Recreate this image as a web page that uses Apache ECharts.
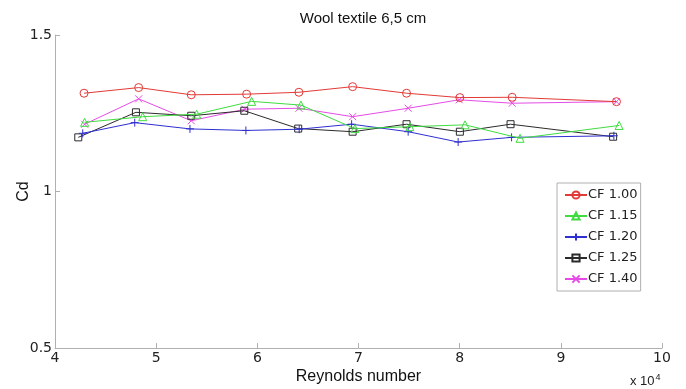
<!DOCTYPE html>
<html>
<head>
<meta charset="utf-8">
<script src="https://cdn.jsdelivr.net/npm/echarts@6/dist/echarts.min.js"></script>
<style>
  html, body { margin: 0; padding: 0; background: #fff; }
  #chart { width: 686px; height: 389px; }
</style>
</head>
<body>
<div id="chart"></div>
<script>
// Drag coefficient vs Reynolds number, wool textile sample 6,5 cm
const seriesNames = ['CF 1.00', 'CF 1.15', 'CF 1.20', 'CF 1.25', 'CF 1.40'];

const reCF100 = [42870, 48270, 53470, 58940, 64110, 69420, 74750, 80020, 85190, 95500];
const cdCF100 = [1.314, 1.332, 1.309, 1.311, 1.317, 1.335, 1.314, 1.300, 1.301, 1.287];

const reCF115 = [42930, 48670, 54000, 59440, 64310, 69640, 75080, 80530, 85970, 95760];
const cdCF115 = [1.221, 1.239, 1.247, 1.288, 1.276, 1.201, 1.207, 1.213, 1.170, 1.211];

const reCF120 = [42740, 47880, 53340, 58870, 64140, 69320, 74910, 79850, 85130, 95240];
const cdCF120 = [1.186, 1.220, 1.200, 1.195, 1.199, 1.215, 1.191, 1.158, 1.173, 1.178];

const reCF125 = [42300, 48000, 53470, 58710, 64040, 69420, 74750, 80020, 85030, 95170];
const cdCF125 = [1.173, 1.253, 1.242, 1.258, 1.201, 1.191, 1.215, 1.191, 1.215, 1.175];

const reCF140 = [42930, 48270, 53470, 58770, 64110, 69420, 74910, 79950, 85190, 95500];
const cdCF140 = [1.215, 1.296, 1.226, 1.263, 1.266, 1.239, 1.266, 1.293, 1.282, 1.287];

const xTickLabels = ['4', '5', '6', '7', '8', '9', '10'];
const yTickLabels = ['0.5', '1', '1.5'];

const reData = [reCF100, reCF115, reCF120, reCF125, reCF140];
const cdData = [cdCF100, cdCF115, cdCF120, cdCF125, cdCF140];

const colors = ['#e23a36', '#3fdc3f', '#2f2fd2', '#2b2b2b', '#e64be6'];
const symbols = [
  'circle',
  'triangle',
  'path://M0,5L10,5M5,0L5,10',
  'rect',
  'path://M0,0L10,10M0,10L10,0'
];
const symbolSizes = [8, 8, 8, 7, 7];

const zip = (xs, ys) => xs.map((x, i) => [x, ys[i]]);

const series = seriesNames.map((name, k) => ({
  name: name,
  type: 'line',
  data: zip(reData[k], cdData[k]),
  symbol: symbols[k],
  symbolSize: symbolSizes[k],
  showAllSymbol: true,
  lineStyle: { color: colors[k], width: 1 },
  itemStyle: { color: 'rgba(0,0,0,0)', borderColor: colors[k], borderWidth: 1 },
  emphasis: { disabled: true },
  z: 10 - k
}));

const chart = echarts.init(document.getElementById('chart'), null, { renderer: 'canvas' });

chart.setOption({
  animation: false,
  backgroundColor: '#ffffff',
  title: {
    text: 'Wool textile 6,5 cm',
    left: 358,
    textAlign: 'center',
    top: 6,
    textStyle: { fontFamily: 'Liberation Sans', fontSize: 15, fontWeight: 'normal', color: '#111' }
  },
  grid: { left: 55, right: 24, top: 35, bottom: 41, containLabel: false, outerBoundsMode: 'none' },
  xAxis: {
    type: 'value',
    min: 40000,
    max: 100000,
    interval: 10000,
    name: 'Reynolds number',
    nameLocation: 'middle',
    nameGap: 21,
    nameMoveOverlap: false,
    nameTextStyle: { fontFamily: 'Liberation Sans', fontSize: 16, color: '#111' },
    axisLine: { show: true, lineStyle: { color: '#b0b0b0', width: 1 } },
    axisTick: { show: true, inside: true, length: 5, lineStyle: { color: '#b0b0b0' } },
    axisLabel: {
      margin: 3,
      fontFamily: 'DejaVu Sans',
      fontSize: 14,
      color: '#222',
      formatter: v => xTickLabels[Math.round((v - 40000) / 10000)]
    },
    splitLine: { show: false }
  },
  yAxis: {
    type: 'value',
    min: 0.5,
    max: 1.5,
    interval: 0.5,
    name: 'Cd',
    nameLocation: 'middle',
    nameGap: 23,
    nameMoveOverlap: false,
    nameRotate: 90,
    nameTextStyle: { fontFamily: 'Liberation Sans', fontSize: 16, color: '#111' },
    axisLine: { show: true, lineStyle: { color: '#b0b0b0', width: 1 } },
    axisTick: { show: true, inside: true, length: 5, lineStyle: { color: '#b0b0b0' } },
    axisLabel: {
      margin: 3,
      fontFamily: 'DejaVu Sans',
      fontSize: 14,
      color: '#222',
      formatter: v => yTickLabels[Math.round((v - 0.5) / 0.5)]
    },
    splitLine: { show: false }
  },
  legend: {
    data: seriesNames,
    orient: 'vertical',
    left: 557,
    top: 183,
    width: 82,
    backgroundColor: '#fff',
    borderColor: '#b0b0b0',
    borderWidth: 1,
    borderRadius: 0,
    padding: [5, 3, 5, 7],
    itemGap: 7,
    itemWidth: 22,
    itemHeight: 9,
    textStyle: { fontFamily: 'DejaVu Sans', fontSize: 13, color: '#222', padding: [0, 0, 0, -4], lineHeight: 14 }
  },
  graphic: [
    {
      type: 'text',
      left: 630,
      top: 373,
      style: {
        text: 'x 10{sup|4}',
        fontFamily: 'Liberation Sans',
        fontSize: 13,
        fill: '#222',
        rich: { sup: { fontSize: 9, verticalAlign: 'top', padding: [0, 0, 8, 1] } }
      }
    }
  ],
  series: series
});
</script>
</body>
</html>
